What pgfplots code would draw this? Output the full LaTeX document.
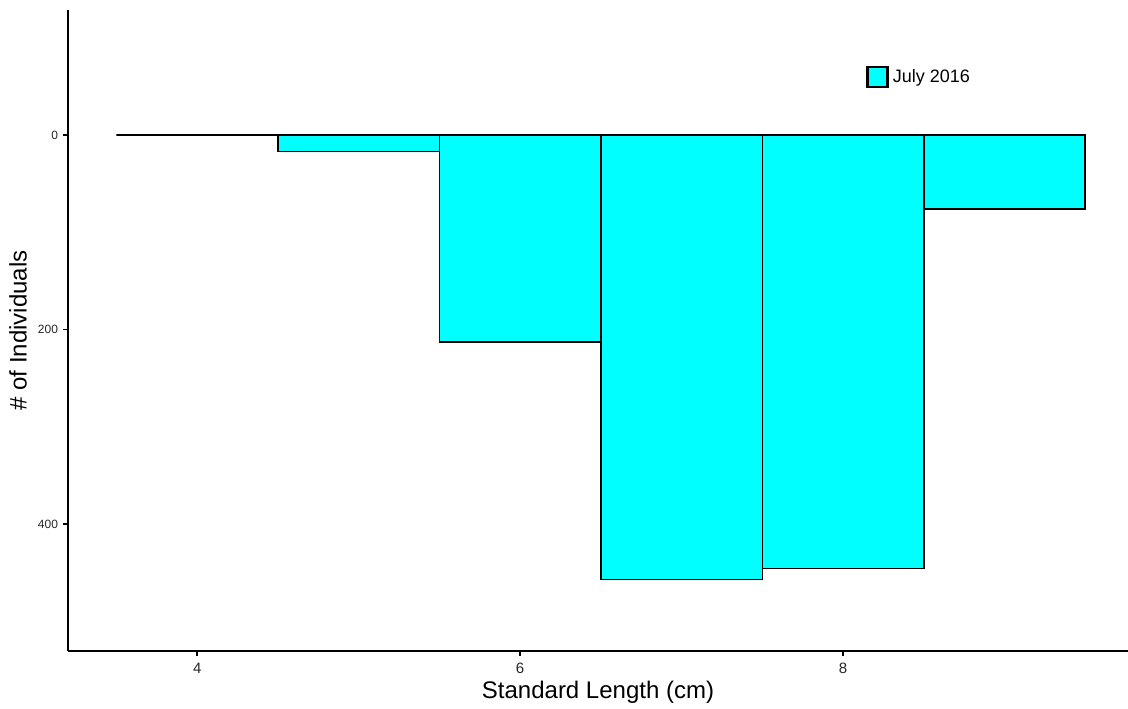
\documentclass[border=0pt]{standalone}
\usepackage{pgfplots}
\pgfplotsset{compat=1.18}
\usepackage{fontspec}
\setmainfont{Liberation Sans}
\definecolor{barcyan}{HTML}{00FFFF}
\begin{document}
\begin{tikzpicture}
\begin{axis}[
  at={(0,0)}, anchor=south west,
  scale only axis,
  width=530pt, height=320.5pt,
  xmin=3.2, xmax=9.765,
  ymin=-128.5, ymax=530.6,
  y dir=reverse,
  axis lines*=left,
  axis line style={line width=1pt, black},
  xtick={4,6,8}, ytick={0,200,400},
  tick align=outside,
  major tick length=2.5pt,
  tick style={line width=0.8pt, black},
  /pgf/number format/assume math mode=true,
  xticklabel style={font=\fontsize{7.5}{9}\selectfont, text=black!85},
  yticklabel style={font=\fontsize{6}{7}\selectfont, text=black!85, xshift=1pt},
  xlabel={Standard Length (cm)},
  ylabel={\# of Individuals},
  label style={font=\fontsize{12}{14}\selectfont},
  xlabel style={at={(axis description cs:0.5,0)}, anchor=center, yshift=-20.5pt},
  ylabel style={at={(axis description cs:0,0.5)}, anchor=center, yshift=25pt},
  legend style={draw=none, fill=none, at={(rel axis cs:0.7525,0.8955)}, anchor=west,
    font=\fontsize{9}{11}\selectfont, inner sep=0pt},
  legend image code/.code={
    \draw[fill=barcyan, draw=black, line width=1.4pt] (-0.5pt,-5pt) rectangle (9.5pt,5pt);
  },
]
\addplot[ybar interval, fill=barcyan, draw=black, line width=0.75pt]
  coordinates {(3.5,0) (4.5,17) (5.5,213) (6.5,457) (7.5,446) (8.5,76) (9.5,76)};
\addlegendentry{July 2016}
\end{axis}
\pgfresetboundingbox
\path[use as bounding box] (-34pt,-28.5pt) rectangle (530pt,325.5pt);
\end{tikzpicture}
\end{document}
